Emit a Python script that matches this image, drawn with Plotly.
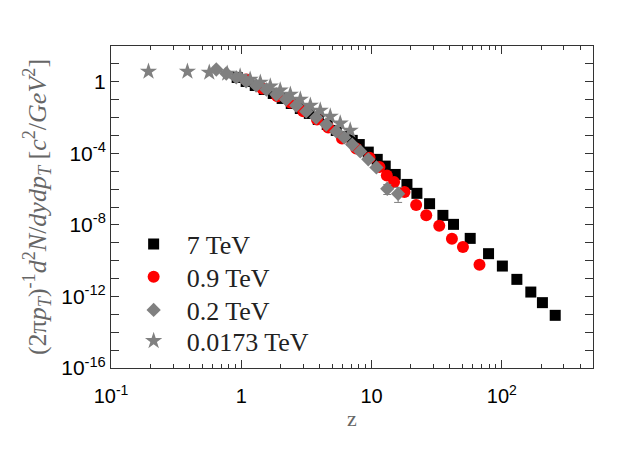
import plotly.graph_objects as go

# 7 TeV
z_7 = [0.93, 1.09, 1.28, 1.50, 1.76, 2.06, 2.42, 2.84, 3.33, 3.90, 4.57, 5.36, 6.28, 7.11, 8.05,
       9.44, 11.06, 12.74, 15.2, 18.7, 22.3, 27.9, 35.3, 42.6, 57.2, 79.1, 101, 130.5, 167, 205, 257]
y_7 = [1.74, 1.04, 0.62, 0.37, 0.222, 0.117, 0.061, 0.032, 0.017, 7.8e-3, 4.1e-3, 1.9e-3, 8.8e-4,
       5.3e-4, 3.1e-4, 1.17e-4, 4.6e-5, 1.93e-5, 6.6e-6, 1.83e-6, 5.8e-7, 1.53e-7, 3.4e-8, 1.07e-8,
       1.76e-9, 2.46e-10, 5.0e-11, 9.0e-12, 1.76e-12, 4.5e-13, 8.8e-14]

# 0.9 TeV
z_09 = [1.09, 1.45, 1.89, 2.38, 2.99, 3.81, 4.65, 5.93, 7.63, 9.66, 11.5, 13.1, 14.9, 17.9,
        22.0, 26.3, 33.1, 41.4, 50.3, 67.4]
y_09 = [1.34, 0.42, 0.157, 0.070, 0.0228, 7.8e-3, 2.8e-3, 6.8e-4, 1.88e-4, 5.7e-5, 1.7e-5,
        5.8e-6, 2.46e-6, 6.8e-7, 1.28e-7, 3.5e-8, 9.0e-9, 1.7e-9, 5.8e-10, 6.0e-11]

# 0.2 TeV
z_02 = [0.643, 0.767, 0.916, 1.09, 1.30, 1.56, 1.86, 2.21, 2.64, 3.15, 3.76, 4.49, 5.36, 6.17,
        7.11, 8.19, 9.44, 10.9, 13.2, 16.0]
y_02 = [4.87, 2.91, 1.74, 1.04, 0.62, 0.37, 0.195, 0.103, 0.047, 0.022, 0.0101, 4.1e-3, 1.67e-3,
        7.7e-4, 3.1e-4, 1.28e-4, 4.6e-5, 1.63e-5, 1.05e-6, 5.5e-7]
err_up_02 = [0] * 18 + [7.5e-7, 7.0e-7]
err_dn_02 = [0] * 18 + [5.5e-7, 3.7e-7]

# 0.0173 TeV
z_0173 = [0.194, 0.386, 0.568, 0.78, 0.98, 1.17, 1.40, 1.67, 1.99, 2.38, 2.84, 3.39, 4.04, 4.82,
          5.75, 6.86]
y_0173 = [3.76, 3.76, 3.3, 2.91, 1.98, 1.34, 0.91, 0.55, 0.33, 0.195, 0.103, 0.047, 0.025,
          0.0115, 4.7e-3, 1.9e-3]

x_major = [0.1, 1, 10, 100]
x_major_text = ['10<sup>-1</sup>', '1', '10', '10<sup>2</sup>']
x_minor = [k * 10 ** e for e in range(-1, 3) for k in range(2, 10) if k * 10 ** e <= 500]
y_ticks = [10.0 ** e for e in range(-16, 3)]
y_text = {0: '1', -4: '10<sup>-4</sup>', -8: '10<sup>-8</sup>', -12: '10<sup>-12</sup>',
          -16: '10<sup>-16</sup>'}
y_ticktext = [y_text.get(e, '') for e in range(-16, 3)]

gray = '#808080'

fig = go.Figure()

fig.add_trace(go.Scatter(x=z_7, y=y_7, mode='markers', name='7 TeV', legend='legend',
                         showlegend=True,
                         marker=dict(symbol='square', size=11, color='black')))
fig.add_trace(go.Scatter(x=z_09, y=y_09, mode='markers', name='0.9 TeV', legend='legend2',
                         showlegend=True,
                         marker=dict(symbol='circle', size=12, color='#ff0000')))
fig.add_trace(go.Scatter(x=z_02, y=y_02, mode='markers', name='0.2 TeV', legend='legend3',
                         showlegend=True,
                         marker=dict(symbol='diamond', size=11, color=gray),
                         error_y=dict(type='data', array=err_up_02, arrayminus=err_dn_02,
                                      color=gray, thickness=1, width=4)))
fig.add_trace(go.Scatter(x=z_0173, y=y_0173, mode='markers', name='0.0173 TeV', legend='legend4',
                         showlegend=True,
                         marker=dict(symbol='star', size=13, color=gray)))

legend_style = dict(x=0.02, xanchor='left', yanchor='middle', bgcolor='rgba(0,0,0,0)',
                    itemwidth=56,
                    font=dict(family='Liberation Serif', size=26, color='#222222'))

fig.update_layout(
    width=623, height=463,
    showlegend=True,
    margin=dict(l=103, r=38, t=38, b=103),
    plot_bgcolor='white', paper_bgcolor='white',
    font=dict(family='Liberation Sans', size=20, color='black'),
    legend=dict(y=0.385, **legend_style),
    legend2=dict(y=0.283, **legend_style),
    legend3=dict(y=0.180, **legend_style),
    legend4=dict(y=0.084, **legend_style),
    xaxis=dict(type='log', range=[-1, 2.7], automargin=False,
               tickvals=x_major, ticktext=x_major_text,
               ticks='inside', ticklen=8, tickcolor='#333333',
               minor=dict(tickvals=x_minor, ticks='inside', ticklen=4, tickcolor='#333333'),
               showline=True, linecolor='#333333', linewidth=1, mirror='allticks',
               showgrid=False, zeroline=False, ticklabelstandoff=10,
               title=dict(text='z', font=dict(family='Liberation Serif', size=22, color='#666666'),
                          standoff=4)),
    yaxis=dict(type='log', range=[-16, 2], automargin=False,
               tickvals=y_ticks, ticktext=y_ticktext,
               ticks='inside', ticklen=8, tickcolor='#333333',
               tickfont=dict(size=21),
               showline=True, linecolor='#333333', linewidth=1, mirror='allticks',
               showgrid=False, zeroline=False,
               title=dict(text='(2π<i>p</i><sub><i>T</i></sub>)<sup>-1</sup><i>d</i><sup>2</sup>'
                               '<i>N</i>/<i>dydp</i><sub><i>T</i></sub> '
                               '[<i>c</i><sup>2</sup>/<i>GeV</i><sup>2</sup>]',
                          font=dict(family='Liberation Serif', size=26, color='#666666'),
                          standoff=7)),
)

fig.write_html("out.html")
